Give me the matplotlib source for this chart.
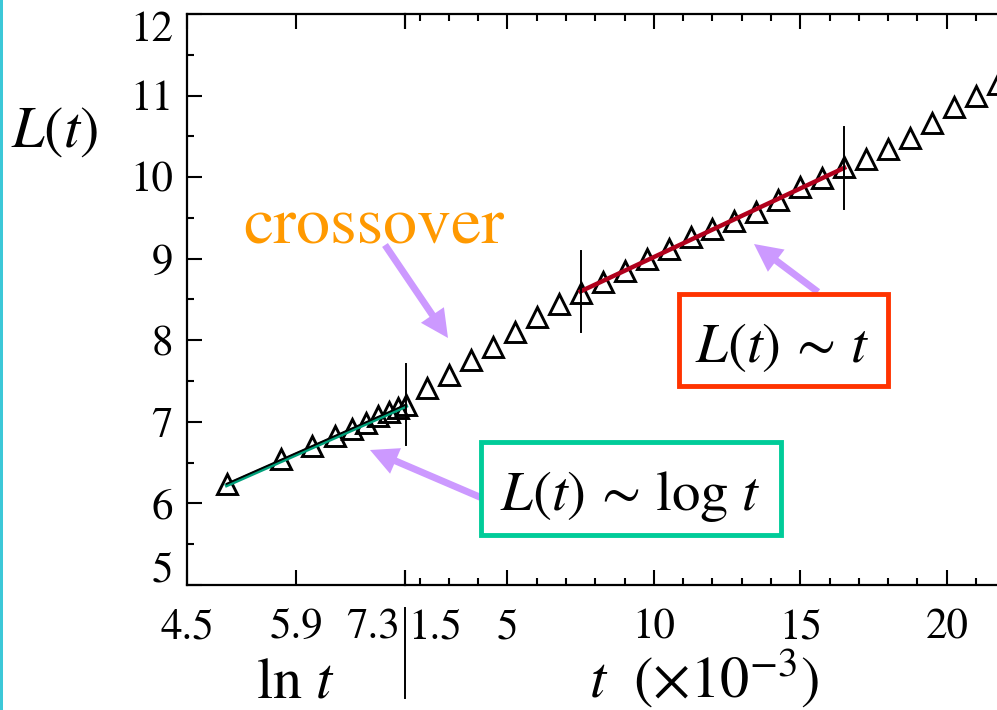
import numpy as np
import matplotlib.pyplot as plt
import matplotlib.transforms as mtransforms
from matplotlib.patches import Rectangle
from matplotlib.lines import Line2D
from matplotlib.text import Annotation
from matplotlib.ticker import MultipleLocator

plt.rcParams['font.family'] = 'STIXGeneral'
plt.rcParams['mathtext.fontset'] = 'stix'

# early times (plotted against ln t)
t_early = [150, 300, 450, 600, 750, 900, 1050, 1200, 1350, 1500]
L_early = [6.24, 6.54, 6.70, 6.83, 6.91, 6.99, 7.07, 7.12, 7.17, 7.21]

# late times, t in units of 10^3
t_late = [2.25, 3.0, 3.75, 4.5, 5.25, 6.0, 6.75, 7.5, 8.25, 9.0, 9.75, 10.5,
          11.25, 12.0, 12.75, 13.5, 14.25, 15.0, 15.75, 16.5, 17.25, 18.0,
          18.75, 19.5, 20.25, 21.0, 21.75]
L_late = [7.41, 7.57, 7.76, 7.92, 8.10, 8.29, 8.44, 8.58, 8.72, 8.85, 9.00, 9.12,
          9.27, 9.36, 9.46, 9.57, 9.72, 9.88, 9.99, 10.12, 10.22, 10.34,
          10.48, 10.66, 10.86, 11.00, 11.14]
lin_fit_range = (7.5, 16.5)

ln_ticks = [4.5, 5.9, 7.3]
t_ticks = [1.5, 5, 10, 15, 20]

W, H = 997, 710
fig = plt.figure(figsize=(W / 100, H / 100), dpi=100)
fig.patch.set_facecolor('white')


def fx(px):
    return px / W


def fy(py):
    return 1 - py / H


bot, top = fy(585), fy(14)
axL = fig.add_axes([fx(187), bot, fx(405) - fx(187), top - bot])
axR = fig.add_axes([fx(405), bot, fx(1017) - fx(405), top - bot], sharey=axL)
for ax in (axL, axR):
    ax.set_facecolor('none')
    for s in ax.spines.values():
        s.set_linewidth(1.6)
axL.spines['right'].set_visible(False)
axR.spines['left'].set_visible(False)

mk = dict(marker='^', ms=14, mfc='none', mec='k', mew=2.1, ls='none', clip_on=False, zorder=3)

# ---- ln t part
lnt = np.log(t_early)
axL.plot(lnt, L_early, **mk)
c1 = np.polyfit(lnt, L_early, 1)
xs = np.array([lnt[0], lnt[-1]])
down = mtransforms.offset_copy(axL.transData, fig=fig, x=0, y=-1.5, units='dots')
axL.plot(xs, np.polyval(c1, xs), color='#00a07a', lw=2.8, clip_on=False, zorder=4, transform=down)
axL.plot(xs, np.polyval(c1, xs), color='k', lw=1.4, clip_on=False, zorder=4)
ye = np.polyval(c1, lnt[-1])
axL.plot([lnt[-1], lnt[-1]], [ye - 0.5, ye + 0.5], color='k', lw=1.4, clip_on=False, zorder=4)

# ---- linear t part
t_arr = np.array(t_late)
L_arr = np.array(L_late)
axR.plot(t_arr, L_arr, **mk)
sel = (t_arr >= lin_fit_range[0]) & (t_arr <= lin_fit_range[1])
c2 = np.polyfit(t_arr[sel], L_arr[sel], 1)
xs2 = np.array(lin_fit_range)
axR.plot(xs2, np.polyval(c2, xs2), color='#b0001c', lw=3.2, zorder=4)
for xv in lin_fit_range:
    yv = np.polyval(c2, xv)
    axR.plot([xv, xv], [yv - 0.5, yv + 0.5], color='k', lw=1.4, zorder=4)

# ---- axes, ticks
axL.set_ylim(5, 12)
axL.set_xlim(4.5, 7.3)
axR.set_xlim(1.5, 22.4)
axL.set_yticks(range(5, 13))
axL.yaxis.set_minor_locator(MultipleLocator(0.5))
axL.set_xticks(ln_ticks)
axL.set_xticklabels([str(v) for v in ln_ticks])
axR.set_xticks(t_ticks)
axR.set_xticklabels([str(v) for v in t_ticks])
axR.xaxis.set_minor_locator(MultipleLocator(1))

for ax in (axL, axR):
    ax.tick_params(which='both', direction='in', top=True, right=False, width=1.5)
    ax.tick_params(which='major', length=11, labelsize=31)
    ax.tick_params(which='minor', length=5)
    ax.tick_params(axis='x', pad=17)
axL.tick_params(axis='y', pad=10)
axR.tick_params(axis='y', which='both', left=False, right=False, labelleft=False)


def shift(label, dx, dy):
    label.set_transform(label.get_transform() +
                        mtransforms.ScaledTranslation(dx / 100, dy / 100, fig.dpi_scale_trans))


yt = axL.yaxis.get_major_ticks()
shift(yt[0].label1, 0, 18)
shift(yt[-1].label1, 0, -12)
xt = axL.xaxis.get_major_ticks()
xt[-1].label1.set_horizontalalignment('right')
shift(xt[-1].label1, -5, 0)
rt = axR.xaxis.get_major_ticks()
rt[0].label1.set_horizontalalignment('left')
shift(rt[0].label1, 3, 0)

# ---- labels
fig.text(fx(55), fy(147), r'$L(t)$', fontsize=42, ha='center', va='baseline')
fig.text(fx(295), fy(698), r'$\ln\,t$', fontsize=42, ha='center', va='baseline')
fig.text(fx(704), fy(698), r'$t\ \ (\times 10^{-3})$', fontsize=42, ha='center', va='baseline')
fig.add_artist(Line2D([fx(405), fx(405)], [fy(608), fy(698)], color='k', lw=1.4))
fig.text(fx(374), fy(243), 'crossover', color='#ff9900', fontsize=49, ha='center', va='baseline')

# ---- arrows
arrow_kw = dict(facecolor='#cc99ff', edgecolor='none', width=5, headwidth=20, headlength=20, shrink=0)
for tail, tip in [((385, 245), (448, 338)), ((482, 498), (370, 450)), ((818, 292), (754, 244))]:
    fig.add_artist(Annotation('', xy=(fx(tip[0]), fy(tip[1])),
                              xytext=(fx(tail[0]), fy(tail[1])),
                              xycoords='figure fraction', arrowprops=arrow_kw))

# ---- boxes
fig.add_artist(Rectangle((fx(481), fy(535)), fx(781) - fx(481), fy(442) - fy(535),
                         transform=fig.transFigure, fc='white', ec='#00cc99', lw=3.5, zorder=5))
fig.text(fx(630), fy(510), r'$L(t)\,\sim\,\log\,t$', fontsize=41, ha='center', va='baseline', zorder=6)
fig.add_artist(Rectangle((fx(679), fy(386)), fx(888) - fx(679), fy(294) - fy(386),
                         transform=fig.transFigure, fc='white', ec='#ff3300', lw=3.5, zorder=5))
fig.text(fx(782), fy(362), r'$L(t)\,\sim\,t$', fontsize=41, ha='center', va='baseline', zorder=6)

# cyan frame edge on the left
fig.add_artist(Rectangle((0, 0), fx(3), 1, transform=fig.transFigure, fc='#3cc8d8', ec='none'))

fig.savefig('out.png', dpi=100)
